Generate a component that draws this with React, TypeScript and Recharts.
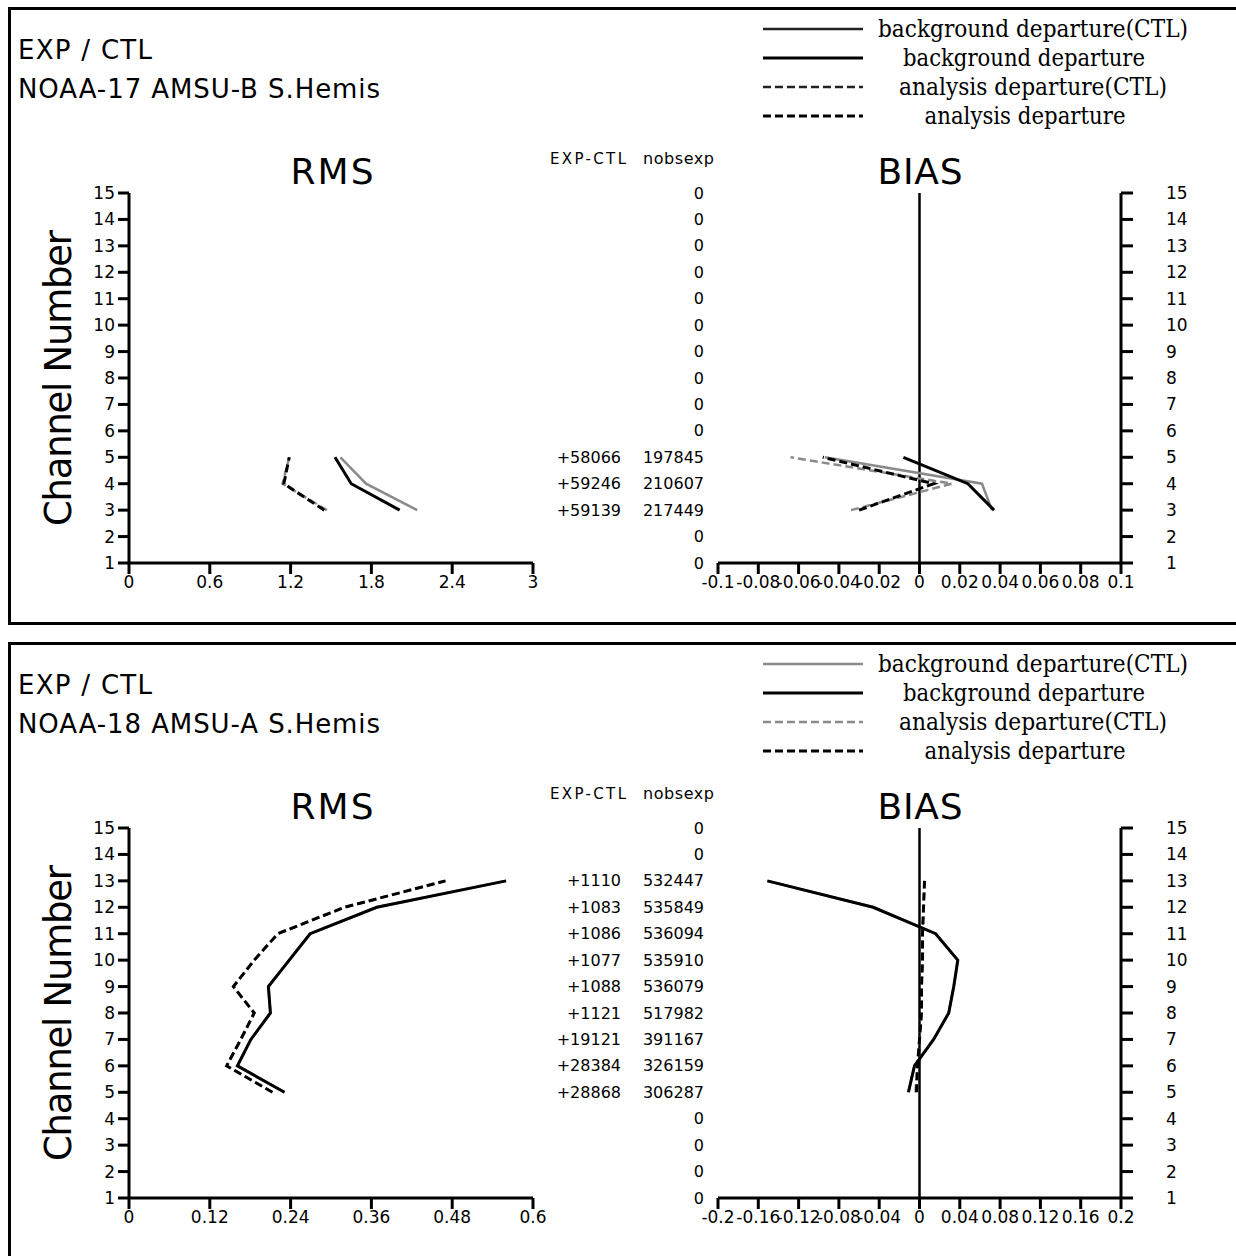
import React from 'react'
import { LineChart, Line, XAxis, YAxis, ReferenceLine } from 'recharts'

const CHANNELS = [1, 2, 3, 4, 5, 6, 7, 8, 9, 10, 11, 12, 13, 14, 15]

// NOAA-17 AMSU-B S.Hemis
const N17_CH = [3, 4, 5]
const N17_RMS_BG_CTL = [2.14, 1.76, 1.57]
const N17_RMS_BG = [2.01, 1.65, 1.53]
const N17_RMS_AN_CTL = [1.47, 1.14, 1.19]
const N17_RMS_AN = [1.45, 1.15, 1.19]
const N17_BIAS_BG_CTL = [0.036, 0.031, -0.047]
const N17_BIAS_BG = [0.037, 0.024, -0.008]
const N17_BIAS_AN_CTL = [-0.034, 0.016, -0.064]
const N17_BIAS_AN = [-0.03, 0.007, -0.048]
const N17_DIFF = ['+59139', '+59246', '+58066']
const N17_NOBS = [217449, 210607, 197845]
const N17_RMS_TICKS = [0, 0.6, 1.2, 1.8, 2.4, 3]
const N17_BIAS_TICKS = [-0.1, -0.08, -0.06, -0.04, -0.02, 0, 0.02, 0.04, 0.06, 0.08, 0.1]

// NOAA-18 AMSU-A S.Hemis
const N18_CH = [5, 6, 7, 8, 9, 10, 11, 12, 13]
const N18_RMS_BG_CTL = [0.231, 0.161, 0.181, 0.21, 0.207, 0.238, 0.269, 0.368, 0.56]
const N18_RMS_BG = [0.231, 0.161, 0.181, 0.21, 0.207, 0.238, 0.269, 0.368, 0.56]
const N18_RMS_AN_CTL = [0.213, 0.145, 0.166, 0.186, 0.155, 0.186, 0.221, 0.32, 0.47]
const N18_RMS_AN = [0.213, 0.145, 0.166, 0.186, 0.155, 0.186, 0.221, 0.32, 0.47]
const N18_BIAS_BG_CTL = [-0.011, -0.005, 0.014, 0.029, 0.034, 0.038, 0.016, -0.046, -0.151]
const N18_BIAS_BG = [-0.011, -0.005, 0.014, 0.029, 0.034, 0.038, 0.016, -0.046, -0.151]
const N18_BIAS_AN_CTL = [-0.004, -0.002, 0, 0.002, 0.002, 0.003, 0.003, 0.004, 0.005]
const N18_BIAS_AN = [-0.003, -0.002, 0, 0.002, 0.002, 0.003, 0.003, 0.004, 0.005]
const N18_DIFF = ['+28868', '+28384', '+19121', '+1121', '+1088', '+1077', '+1086', '+1083', '+1110']
const N18_NOBS = [306287, 326159, 391167, 517982, 536079, 535910, 536094, 535849, 532447]
const N18_RMS_TICKS = [0, 0.12, 0.24, 0.36, 0.48, 0.6]
const N18_BIAS_TICKS = [-0.2, -0.16, -0.12, -0.08, -0.04, 0, 0.04, 0.08, 0.12, 0.16, 0.2]

const LEGEND_LABELS = [
  'background departure(CTL)',
  'background departure',
  'analysis departure(CTL)',
  'analysis departure'
]

const SANS = 'DejaVu Sans'
const GRAY = '#8a8a8a'
const DASH = '8 4'
const tickStyle = { fontSize: 17, fill: '#000', fontFamily: SANS }

function Panel({ oy, name, ch, rms, bias, diff, nobs, rmsTicks, biasTicks, legendCtl }: any) {
  const rmsRows = ch.map((c: number, i: number) => ({
    ch: c, bgCtl: rms[0][i], bg: rms[1][i], anCtl: rms[2][i], an: rms[3][i]
  }))
  const biasRows = ch.map((c: number, i: number) => ({
    ch: c, bgCtl: bias[0][i], bg: bias[1][i], anCtl: bias[2][i], an: bias[3][i]
  }))
  const rmsMax = rmsTicks[rmsTicks.length - 1]
  const biasMax = biasTicks[biasTicks.length - 1]

  // middle column: EXP-CTL difference and nobs, one row per channel tick
  const NobsTick = (props: any) => {
    const { y, payload } = props
    const i = ch.indexOf(payload.value)
    return (
      <g fontFamily={SANS} fontSize={16} fill="#000">
        {i >= 0 && (
          <text x={81} y={y} dy="0.35em" textAnchor="end">{diff[i]}</text>
        )}
        <text x={164} y={y} dy="0.35em" textAnchor="end">{i >= 0 ? nobs[i] : 0}</text>
      </g>
    )
  }

  const lines = (axisId?: string) => [
    <Line key="bgCtl" yAxisId={axisId} type="linear" dataKey="bgCtl" stroke={GRAY} strokeWidth={2.5} dot={false} isAnimationActive={false} />,
    <Line key="anCtl" yAxisId={axisId} type="linear" dataKey="anCtl" stroke={GRAY} strokeWidth={2.5} strokeDasharray={DASH} dot={false} isAnimationActive={false} />,
    <Line key="bg" yAxisId={axisId} type="linear" dataKey="bg" stroke="#000" strokeWidth={3} dot={false} isAnimationActive={false} />,
    <Line key="an" yAxisId={axisId} type="linear" dataKey="an" stroke="#000" strokeWidth={3} strokeDasharray={DASH} dot={false} isAnimationActive={false} />
  ]

  const legendY = [29, 58, 87, 116]
  const legendX = [1033, 1024, 1033, 1025]
  const legendW = [310, 242, 268, 201]

  return (
    <>
      <svg width={1236} height={200} style={{ position: 'absolute', left: 0, top: oy }}>
        <text x={18} y={59} fontFamily={SANS} fontSize={26} textLength={134}>EXP / CTL</text>
        <text x={18} y={98} fontFamily={SANS} fontSize={26} textLength={362}>{name}</text>
        {LEGEND_LABELS.map((lab, i) => (
          <g key={lab}>
            <line
              x1={763} x2={863} y1={legendY[i]} y2={legendY[i]}
              stroke={i % 2 === 0 ? legendCtl : '#000'}
              strokeWidth={i % 2 === 0 ? 2.5 : 3}
              strokeDasharray={i >= 2 ? DASH : undefined}
            />
            <text
              x={legendX[i]} y={legendY[i] + 8} textAnchor="middle"
              fontFamily="DejaVu Serif" fontSize={25}
              textLength={legendW[i]} lengthAdjust="spacingAndGlyphs"
            >{lab}</text>
          </g>
        ))}
        <text x={332} y={184} textAnchor="middle" fontFamily={SANS} fontSize={36} textLength={83}>RMS</text>
        <text x={920} y={184} textAnchor="middle" fontFamily={SANS} fontSize={36} textLength={85}>BIAS</text>
        <text x={550} y={164} fontFamily={SANS} fontSize={15} textLength={76}>EXP-CTL</text>
        <text x={643} y={164} fontFamily={SANS} fontSize={16} textLength={71}>nobsexp</text>
      </svg>
      <svg width={100} height={420} style={{ position: 'absolute', left: 0, top: oy + 170 }}>
        <text
          x={71} y={208} textAnchor="middle" fontFamily={SANS} fontSize={37}
          textLength={296} transform="rotate(-90, 71, 208)"
        >Channel Number</text>
      </svg>

      <div style={{ position: 'absolute', left: 60, top: oy + 150 }}>
        <LineChart width={540} height={460} layout="vertical" data={rmsRows}
          margin={{ top: 43, right: 67, bottom: 7, left: 0 }}>
          <XAxis type="number" domain={[0, rmsMax]} ticks={rmsTicks} interval={0}
            axisLine={{ stroke: '#000', strokeWidth: 3 }} tickLine={{ stroke: '#000', strokeWidth: 3 }}
            tickSize={11} tickMargin={2} tick={tickStyle} height={40} />
          <YAxis type="number" dataKey="ch" domain={[1, 15]} ticks={CHANNELS} interval={0} reversed
            axisLine={{ stroke: '#000', strokeWidth: 3 }} tickLine={{ stroke: '#000', strokeWidth: 3 }}
            tickSize={11} tickMargin={3} tick={tickStyle} width={69} />
          {lines()}
        </LineChart>
      </div>

      <div style={{ position: 'absolute', left: 540, top: oy + 150 }}>
        <LineChart width={660} height={460} layout="vertical" data={biasRows}
          margin={{ top: 43, right: 0, bottom: 7, left: 0 }}>
          <XAxis type="number" domain={[-biasMax, biasMax]} ticks={biasTicks} interval={0}
            axisLine={{ stroke: '#000', strokeWidth: 3 }} tickLine={{ stroke: '#000', strokeWidth: 3 }}
            tickSize={11} tickMargin={2} tick={tickStyle} height={40} />
          <YAxis yAxisId="l" orientation="left" type="number" dataKey="ch" domain={[1, 15]} ticks={CHANNELS}
            interval={0} reversed axisLine={false} tickLine={false} tick={<NobsTick />} width={178} />
          <YAxis yAxisId="r" orientation="right" type="number" dataKey="ch" domain={[1, 15]} ticks={CHANNELS}
            interval={0} reversed axisLine={{ stroke: '#000', strokeWidth: 3 }}
            tickLine={{ stroke: '#000', strokeWidth: 3 }} tickSize={12} tickMargin={33} tick={tickStyle} width={79} />
          <ReferenceLine yAxisId="r" x={0} stroke="#000" strokeWidth={2.5} />
          {lines('r')}
        </LineChart>
      </div>
    </>
  )
}

export default function App() {
  return (
    <div style={{ position: 'absolute', left: 0, top: 0, width: 1236, height: 1256, overflow: 'hidden', background: '#fff' }}>
      <div style={{ position: 'absolute', left: 8, top: 7, width: 1240, height: 618, border: '3px solid #000', boxSizing: 'border-box' }} />
      <div style={{ position: 'absolute', left: 8, top: 642, width: 1240, height: 700, border: '3px solid #000', boxSizing: 'border-box' }} />
      <Panel
        oy={0}
        name="NOAA-17 AMSU-B S.Hemis"
        ch={N17_CH}
        rms={[N17_RMS_BG_CTL, N17_RMS_BG, N17_RMS_AN_CTL, N17_RMS_AN]}
        bias={[N17_BIAS_BG_CTL, N17_BIAS_BG, N17_BIAS_AN_CTL, N17_BIAS_AN]}
        diff={N17_DIFF}
        nobs={N17_NOBS}
        rmsTicks={N17_RMS_TICKS}
        biasTicks={N17_BIAS_TICKS}
        legendCtl="#222"
      />
      <Panel
        oy={635}
        name="NOAA-18 AMSU-A S.Hemis"
        ch={N18_CH}
        rms={[N18_RMS_BG_CTL, N18_RMS_BG, N18_RMS_AN_CTL, N18_RMS_AN]}
        bias={[N18_BIAS_BG_CTL, N18_BIAS_BG, N18_BIAS_AN_CTL, N18_BIAS_AN]}
        diff={N18_DIFF}
        nobs={N18_NOBS}
        rmsTicks={N18_RMS_TICKS}
        biasTicks={N18_BIAS_TICKS}
        legendCtl={GRAY}
      />
    </div>
  )
}
